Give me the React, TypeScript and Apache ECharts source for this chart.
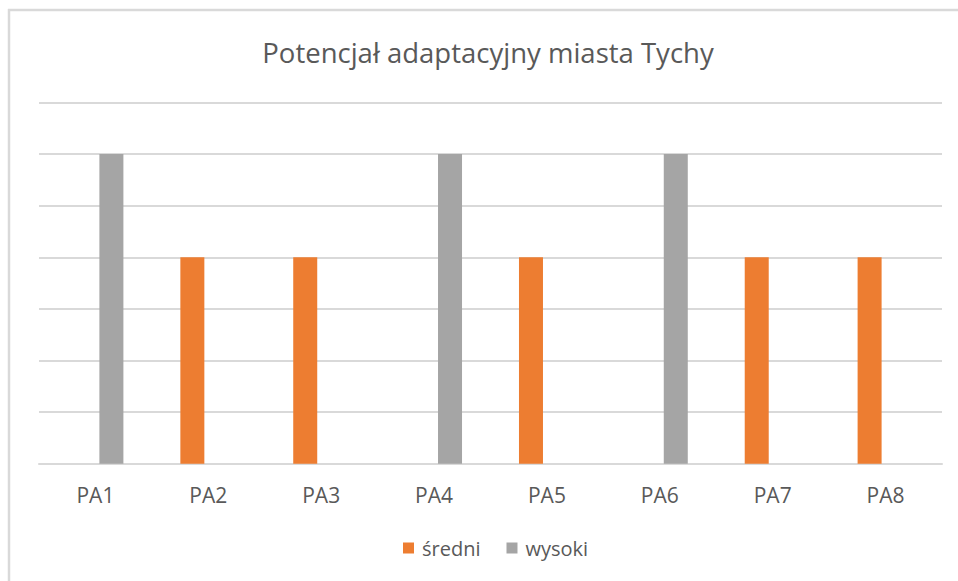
import React, { useEffect, useRef } from "react";
import * as echarts from "echarts";

const categories = ["PA1", "PA2", "PA3", "PA4", "PA5", "PA6", "PA7", "PA8"];
const sredni = [null, 4, 4, null, 4, null, 4, 4];
const wysoki = [6, null, null, 6, null, 6, null, null];
const titleText = "Potencjał adaptacyjny miasta Tychy";
const FONT = "'Open Sans', sans-serif";

export default function App() {
  const ref = useRef<HTMLDivElement>(null);
  useEffect(() => {
    const chart = echarts.init(ref.current!, undefined, { renderer: "svg" });
    chart.setOption({
      animation: false,
      backgroundColor: "#ffffff",
      title: {
        text: titleText,
        left: 483,
        top: 33,
        textAlign: "center",
        textStyle: { fontFamily: FONT, fontSize: 27.5, fontWeight: "normal", color: "#595959" },
      },
      legend: {
        data: ["średni", "wysoki"],
        left: 403,
        top: 538,
        padding: 0,
        itemWidth: 11,
        itemHeight: 11,
        itemGap: 26,
        icon: "rect",
        textStyle: { fontFamily: FONT, fontSize: 20, color: "#595959", padding: [0, 0, 0, 3] },
      },
      grid: { left: 39, right: 16, top: 102.5, bottom: 117.3, containLabel: false },
      xAxis: {
        type: "category",
        data: categories,
        axisLine: { lineStyle: { color: "#D9D9D9", width: 2 } },
        axisTick: { show: false },
        axisLabel: { fontFamily: FONT, fontSize: 21, color: "#595959", margin: 21 },
      },
      yAxis: {
        type: "value",
        min: 0,
        max: 7,
        interval: 1,
        axisLabel: { show: false },
        axisLine: { show: false },
        axisTick: { show: false },
        splitLine: { lineStyle: { color: "#D9D9D9", width: 2 } },
      },
      series: [
        { name: "średni", type: "bar", data: sredni, barWidth: 24, barGap: "33%", itemStyle: { color: "#ED7D31" } },
        { name: "wysoki", type: "bar", data: wysoki, barWidth: 24, barGap: "33%", itemStyle: { color: "#A5A5A5" } },
      ],
      graphic: [
        { type: "line", shape: { x1: 8, y1: 10, x2: 958, y2: 10 }, style: { stroke: "#D9D9D9", lineWidth: 2.5 } },
        { type: "line", shape: { x1: 9, y1: 9, x2: 9, y2: 581 }, style: { stroke: "#D9D9D9", lineWidth: 2.5 } },
      ],
    });
    return () => chart.dispose();
  }, []);
  return <div ref={ref} style={{ position: "fixed", left: 0, top: 0, width: 958, height: 581 }} />;
}
